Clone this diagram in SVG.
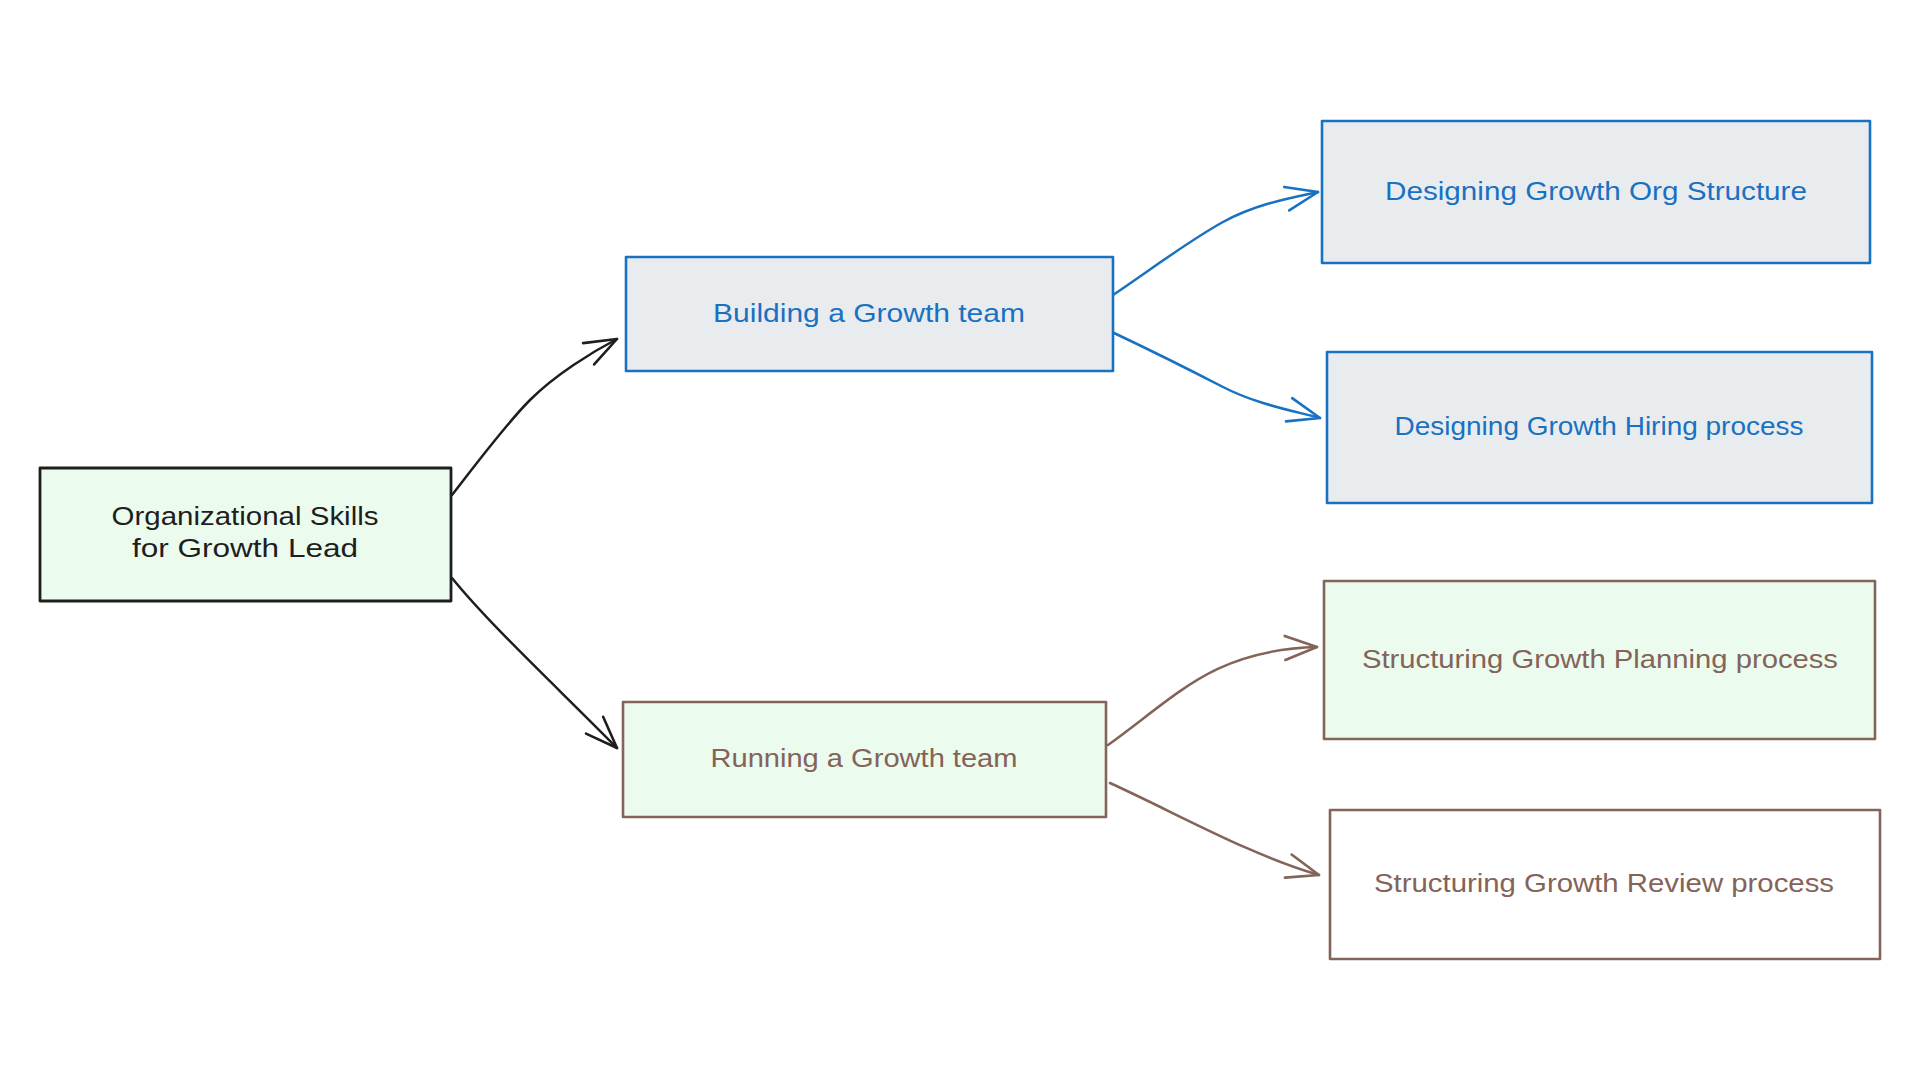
<svg xmlns="http://www.w3.org/2000/svg" width="1920" height="1080" viewBox="0 0 1920 1080">
<style>
  .box { stroke-width: 2.6; stroke-linejoin: round; }
  .blue { stroke: #1971c2; fill: #e9ecef; }
  .brown { stroke: #846358; fill: #ebfbee; }
  .brownw { stroke: #846358; fill: #ffffff; }
  .dark { stroke: #1e1e1e; fill: #ebfbee; stroke-width: 2.8; }
  text { font-family: "Liberation Sans", Arial, sans-serif; font-size: 26px; text-anchor: middle; }
  .tb { fill: #1971c2; }
  .tr { fill: #846358; }
  .td { fill: #1e1e1e; font-size: 25px; }
  .edge { fill: none; stroke-width: 2.5; stroke-linecap: round; }
</style>
<defs>
  <marker id="ahDark" markerUnits="userSpaceOnUse" markerWidth="40" markerHeight="30" refX="0" refY="0" viewBox="-36 -15 40 30" orient="auto">
    <path d="M-32,-12 L0,0 L-32,12" fill="none" stroke="#1e1e1e" stroke-width="2.6" stroke-linecap="round" stroke-linejoin="round"/>
  </marker>
  <marker id="ahBlue" markerUnits="userSpaceOnUse" markerWidth="40" markerHeight="30" refX="0" refY="0" viewBox="-36 -15 40 30" orient="auto">
    <path d="M-32,-12 L0,0 L-32,12" fill="none" stroke="#1971c2" stroke-width="2.6" stroke-linecap="round" stroke-linejoin="round"/>
  </marker>
  <marker id="ahBrown" markerUnits="userSpaceOnUse" markerWidth="40" markerHeight="30" refX="0" refY="0" viewBox="-36 -15 40 30" orient="auto">
    <path d="M-32,-12 L0,0 L-32,12" fill="none" stroke="#846358" stroke-width="2.6" stroke-linecap="round" stroke-linejoin="round"/>
  </marker>
</defs>
<rect width="1920" height="1080" fill="#ffffff"/>

<g id="connectors">
  <path class="edge" stroke="#1e1e1e" marker-end="url(#ahDark)" d="M452,495 C470,472 505,425 530,400 S592,352 617,339"/>
  <path class="edge" stroke="#1e1e1e" marker-end="url(#ahDark)" d="M452,578 C490,625 560,690 617,748"/>
  <path class="edge" stroke="#1971c2" marker-end="url(#ahBlue)" d="M1113,295 C1150,270 1190,240 1223,222 S1290,198 1318,192"/>
  <path class="edge" stroke="#1971c2" marker-end="url(#ahBlue)" d="M1114,333 C1150,350 1190,370 1223,387 S1290,410 1320,418"/>
  <path class="edge" stroke="#846358" marker-end="url(#ahBrown)" d="M1108,745 C1180,693 1215,650 1317,647"/>
  <path class="edge" stroke="#846358" marker-end="url(#ahBrown)" d="M1110,783 C1180,815 1250,855 1319,875"/>
</g>

<g id="node-root">
  <rect class="box dark" x="40" y="468" width="411" height="133"/>
  <text class="td" x="245" y="525" textLength="267" lengthAdjust="spacingAndGlyphs">Organizational Skills</text>
  <text class="td" x="245" y="557" textLength="226" lengthAdjust="spacingAndGlyphs">for Growth Lead</text>
</g>

<g id="node-building">
  <rect class="box blue" x="626" y="257" width="487" height="114"/>
  <text class="tb" x="869" y="322" textLength="312" lengthAdjust="spacingAndGlyphs">Building a Growth team</text>
</g>

<g id="node-running">
  <rect class="box brown" x="623" y="702" width="483" height="115"/>
  <text class="tr" x="864" y="767" textLength="307" lengthAdjust="spacingAndGlyphs">Running a Growth team</text>
</g>

<g id="node-org">
  <rect class="box blue" x="1322" y="121" width="548" height="142"/>
  <text class="tb" x="1596" y="200" textLength="422" lengthAdjust="spacingAndGlyphs">Designing Growth Org Structure</text>
</g>

<g id="node-hiring">
  <rect class="box blue" x="1327" y="352" width="545" height="151"/>
  <text class="tb" x="1599" y="435" textLength="409" lengthAdjust="spacingAndGlyphs">Designing Growth Hiring process</text>
</g>

<g id="node-planning">
  <rect class="box brown" x="1324" y="581" width="551" height="158"/>
  <text class="tr" x="1600" y="668" textLength="476" lengthAdjust="spacingAndGlyphs">Structuring Growth Planning process</text>
</g>

<g id="node-review">
  <rect class="box brownw" x="1330" y="810" width="550" height="149"/>
  <text class="tr" x="1604" y="892" textLength="460" lengthAdjust="spacingAndGlyphs">Structuring Growth Review process</text>
</g>
</svg>
